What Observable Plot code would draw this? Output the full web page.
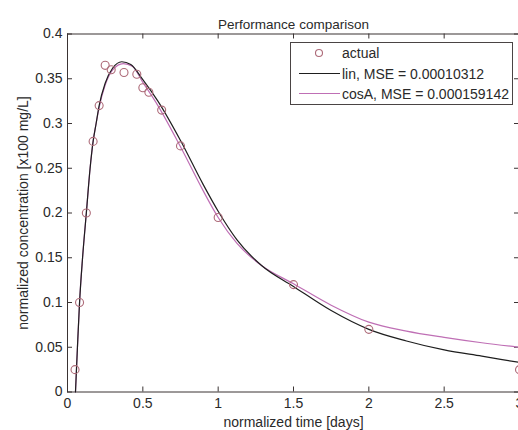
<!DOCTYPE html>
<html><head><meta charset="utf-8">
<script src="https://cdn.jsdelivr.net/npm/d3@7"></script>
<script src="https://cdn.jsdelivr.net/npm/@observablehq/plot@0.6"></script>
<style>body{margin:0;background:#fff;} svg{display:block}</style>
</head><body><div id="chart"></div>
<script>
const titleText = "Performance comparison";
const xLabel = "normalized time [days]";
const yLabel = "normalized concentration [x100 mg/L]";
const xTicks = [0, 0.5, 1, 1.5, 2, 2.5, 3];
const yTicks = [0, 0.05, 0.1, 0.15, 0.2, 0.25, 0.3, 0.35, 0.4];
const legendLabels = ["actual", "lin, MSE = 0.00010312", "cosA, MSE = 0.000159142"];

// measured data
const actualT = [0.05, 0.08, 0.125, 0.17, 0.21, 0.25, 0.29, 0.375, 0.46, 0.5, 0.54, 0.625, 0.75, 1.0, 1.5, 2.0, 3.0];
const actualC = [0.025, 0.10, 0.20, 0.28, 0.32, 0.365, 0.36, 0.357, 0.355, 0.34, 0.335, 0.315, 0.275, 0.195, 0.12, 0.07, 0.025];

// "lin" model curve
const linT = [0.053, 0.066, 0.08, 0.10, 0.125, 0.15, 0.17, 0.19, 0.21, 0.25, 0.30, 0.36, 0.42, 0.5, 0.6, 0.75, 0.9, 1.0, 1.125, 1.29, 1.5, 1.75, 2.0, 2.25, 2.5, 2.75, 3.0];
const linC = [0.0, 0.05, 0.10, 0.15, 0.20, 0.25, 0.28, 0.30, 0.32, 0.345, 0.362, 0.369, 0.366, 0.349, 0.325, 0.281, 0.232, 0.202, 0.170, 0.141, 0.118, 0.091, 0.070, 0.057, 0.047, 0.040, 0.033];

// "cosA" model curve
const cosT = [0.053, 0.066, 0.08, 0.10, 0.125, 0.15, 0.17, 0.19, 0.21, 0.25, 0.30, 0.37, 0.43, 0.5, 0.6, 0.75, 0.9, 1.0, 1.125, 1.29, 1.5, 1.75, 2.0, 2.25, 2.5, 2.75, 3.0];
const cosC = [0.0, 0.05, 0.10, 0.15, 0.20, 0.25, 0.28, 0.30, 0.318, 0.343, 0.360, 0.367, 0.364, 0.346, 0.320, 0.274, 0.225, 0.195, 0.166, 0.141, 0.121, 0.097, 0.078, 0.068, 0.061, 0.055, 0.050];

const actual = actualT.map((t, i) => ({t, c: actualC[i]}));
const lin = linT.map((t, i) => ({t, c: linC[i]}));
const cosA = cosT.map((t, i) => ({t, c: cosC[i]}));

const axisColor = "#3a3333";
const linColor = "#1e1e1e";
const cosColor = "#bf6fb5";
const dotColor = "#ad6a78";
const font = "'Liberation Sans', Arial, sans-serif";
const fmt = d => String(d);

const W = 518, H = 430, ML = 67, MR = -1, MT = 33.5, MB = 38.5;
const plotW = W - ML - MR, plotH = H - MT - MB, tickLen = 5;

const svgNode = Plot.plot({
  width: W, height: H,
  marginLeft: ML, marginRight: MR, marginTop: MT, marginBottom: MB,
  style: {fontFamily: font, fontSize: "14px", color: "#2a2a2a", background: "#fff"},
  x: {domain: [0, 3]},
  y: {domain: [0, 0.4]},
  marks: [
    Plot.frame({stroke: axisColor}),
    Plot.axisX({anchor: "bottom", ticks: xTicks, tickFormat: fmt, tickSize: 0, tickPadding: 6, label: xLabel, labelAnchor: "center", labelArrow: "none", labelOffset: 35}),
    Plot.axisY({anchor: "left", ticks: yTicks, tickFormat: fmt, tickSize: 0, tickPadding: 5, label: yLabel, labelAnchor: "center", labelArrow: "none", labelOffset: 49}),
    // inward tick marks on all four sides
    Plot.tickX(xTicks, {x: d => d, insetTop: plotH - tickLen, stroke: axisColor}),
    Plot.tickX(xTicks, {x: d => d, insetBottom: plotH - tickLen, stroke: axisColor}),
    Plot.tickY(yTicks, {y: d => d, insetRight: plotW - tickLen, stroke: axisColor}),
    Plot.tickY(yTicks, {y: d => d, insetLeft: plotW - tickLen, stroke: axisColor}),
    Plot.line(cosA, {x: "t", y: "c", stroke: cosColor, strokeWidth: 1.2, curve: "monotone-x"}),
    Plot.line(lin, {x: "t", y: "c", stroke: linColor, strokeWidth: 1.2, curve: "monotone-x"}),
    Plot.dot(actual, {x: "t", y: "c", r: 4, stroke: dotColor, strokeWidth: 1.1, fill: "none"}),
    Plot.text([titleText], {text: d => d, frameAnchor: "top", dy: -15, fontSize: 13.5})
  ]
});
document.getElementById("chart").appendChild(svgNode);

// legend box inside the axes (MATLAB style)
const svg = d3.select(svgNode);
const lg = svg.append("g").attr("font-family", font).attr("font-size", 14)
  .attr("fill", "#2a2a2a").attr("text-anchor", "start");
lg.append("rect").attr("x", 290.5).attr("y", 42.5).attr("width", 222).attr("height", 62)
  .attr("fill", "#fff").attr("stroke", "#4a4444").attr("stroke-width", 1);
const rows = [53, 73.5, 93.5];
lg.append("circle").attr("cx", 319).attr("cy", rows[0]).attr("r", 3.5)
  .attr("fill", "none").attr("stroke", dotColor).attr("stroke-width", 1.1);
lg.append("line").attr("x1", 299).attr("x2", 340).attr("y1", rows[1]).attr("y2", rows[1])
  .attr("stroke", linColor).attr("stroke-width", 1.2);
lg.append("line").attr("x1", 299).attr("x2", 340).attr("y1", rows[2]).attr("y2", rows[2])
  .attr("stroke", cosColor).attr("stroke-width", 1.2);
legendLabels.forEach((lab, i) => {
  lg.append("text").attr("x", 342).attr("y", rows[i] + 5).attr("text-anchor", "start").text(lab);
});
</script>
</body></html>
